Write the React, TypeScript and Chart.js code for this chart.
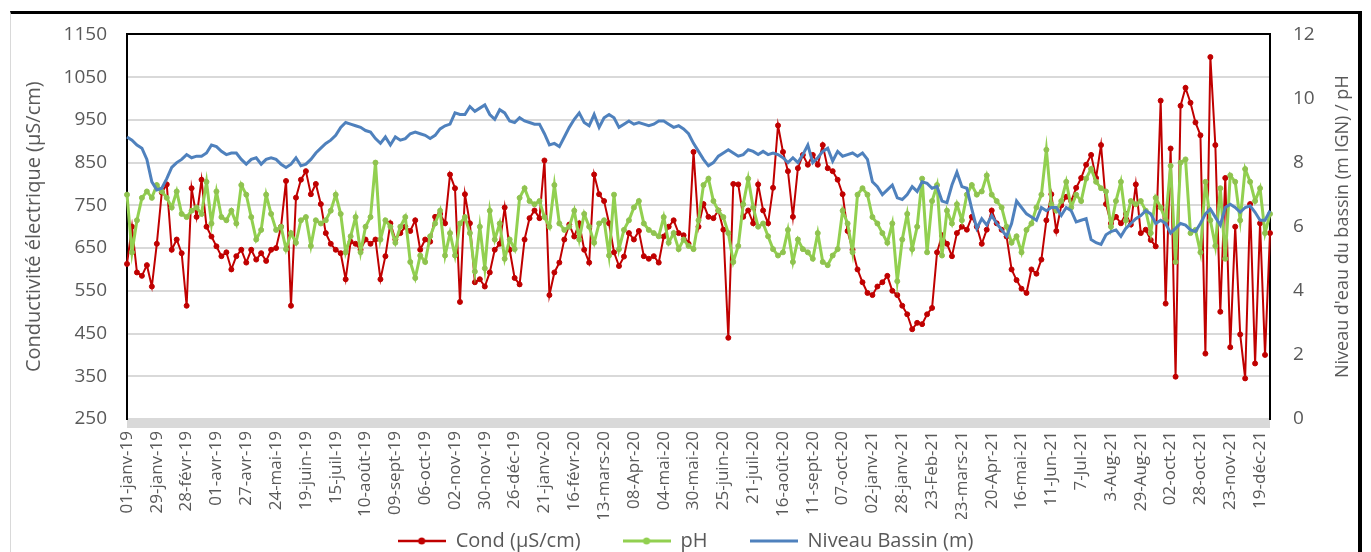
import React, { useEffect, useRef } from 'react';
import { Chart, registerables } from 'chart.js';

Chart.register(...registerables);

const tickLabels = [
  '01-janv-19', '29-janv-19', '28-févr-19', '01-avr-19', '27-avr-19', '24-mai-19', '19-juin-19',
  '15-juil-19', '10-août-19', '09-sept-19', '06-oct-19', '02-nov-19', '30-nov-19', '26-déc-19',
  '21-janv-20', '16-févr-20', '13-mars-20', '08-Apr-20', '04-mai-20', '30-mai-20', '25-juin-20',
  '21-juil-20', '16-août-20', '11-sept-20', '07-oct-20', '02-janv-21', '28-janv-21', '23-Feb-21',
  '23-mars-21', '20-Apr-21', '16-mai-21', '11-Jun-21', '7-Jul-21', '3-Aug-21', '29-Aug-21',
  '02-oct-21', '28-oct-21', '23-nov-21', '19-déc-21',
];

const pointsPerTick = 6;

const seriesNames = ['Cond (µS/cm)', 'pH', 'Niveau Bassin (m)'];
const leftTitle = 'Conductivité électrique (µS/cm)';
const rightTitle = "Niveau d'eau du bassin (m IGN) / pH";

const condValues = [
  613, 700, 593, 585, 610, 560, 660, 780, 799, 646,
  670, 638, 515, 790, 723, 810, 700, 677, 654, 631,
  640, 600, 631, 646, 616, 646, 623, 638, 620, 646,
  650, 700, 807, 515, 768, 810, 830, 776, 800, 753,
  685, 660, 646, 638, 577, 665, 660, 646, 670, 660,
  670, 577, 631, 708, 670, 685, 700, 690, 715, 646,
  670, 665, 723, 730, 708, 822, 790, 524, 776, 708,
  570, 577, 560, 593, 646, 660, 745, 646, 580, 565,
  670, 720, 738, 720, 855, 540, 593, 616, 670, 705,
  677, 708, 646, 616, 822, 776, 760, 708, 640, 608,
  630, 685, 670, 690, 631, 625, 631, 616, 677, 700,
  715, 685, 680, 660, 875, 700, 753, 723, 720, 738,
  693, 440, 800, 799, 723, 738, 708, 799, 738, 708,
  791, 937, 875, 830, 723, 837, 868, 845, 868, 845,
  891, 837, 830, 810, 776, 690, 646, 600, 570, 545,
  540, 560, 570, 585, 550, 540, 515, 495, 460, 475,
  472, 495, 510, 640, 680, 660, 631, 685, 700, 693,
  723, 700, 660, 693, 738, 708, 693, 677, 600, 575,
  555, 545, 600, 590, 623, 715, 776, 690, 750, 770,
  760, 791, 814, 845, 868, 814, 891, 753, 708, 723,
  708, 730, 705, 799, 685, 693, 669, 654, 995, 520,
  883, 349, 983, 1025, 990, 944, 914, 403, 1097, 891,
  501, 814, 418, 700, 448, 345, 753, 380, 708, 400, 685,
];

const phValues = [
  7.0, 5.2, 6.2, 6.9, 7.1, 6.9, 7.3, 7.1, 6.9, 6.6,
  7.1, 6.4, 6.3, 6.5, 6.6, 6.4, 7.4, 6.1, 7.1, 6.3,
  6.2, 6.5, 6.1, 7.3, 7.0, 6.3, 5.6, 5.9, 7.0, 6.4,
  5.9, 6.0, 5.3, 5.8, 5.5, 6.2, 6.3, 5.4, 6.2, 6.1,
  6.2, 6.5, 7.0, 6.4, 5.2, 5.7, 6.3, 5.2, 6.0, 6.3,
  8.0, 5.6, 6.2, 6.0, 5.5, 6.0, 6.3, 4.9, 4.4, 5.1,
  4.9, 5.7, 6.1, 6.5, 5.1, 5.8, 5.1, 6.1, 6.3, 5.8,
  4.6, 6.0, 4.7, 6.5, 5.6, 6.1, 5.0, 5.6, 5.3, 6.9,
  7.2, 6.8, 6.7, 6.8, 6.3, 6.0, 7.3, 6.1, 5.9, 6.0,
  6.5, 5.6, 6.4, 6.0, 5.5, 6.1, 6.2, 5.1, 7.0, 5.3,
  5.9, 6.2, 6.6, 6.8, 6.1, 5.9, 5.8, 5.7, 6.3, 5.5,
  5.8, 5.3, 5.6, 5.4, 5.3, 6.2, 7.3, 7.5, 6.8, 6.5,
  6.3, 5.8, 4.9, 5.4, 6.7, 7.5, 6.6, 6.0, 6.1, 5.7,
  5.3, 5.1, 5.2, 5.9, 4.9, 5.6, 5.3, 5.2, 5.0, 5.8,
  4.9, 4.8, 5.1, 5.3, 6.5, 6.1, 5.2, 7.0, 7.2, 7.0,
  6.3, 6.1, 5.8, 5.5, 6.1, 4.3, 5.6, 6.4, 5.3, 6.0,
  7.5, 5.2, 6.8, 7.3, 5.1, 6.5, 6.1, 6.7, 6.2, 7.0,
  7.3, 7.0, 7.1, 7.6, 7.0, 6.8, 6.6, 6.0, 5.5, 5.7,
  5.2, 5.9, 6.1, 6.6, 7.0, 8.4, 6.7, 6.5, 6.8, 7.4,
  6.6, 7.0, 6.8, 7.5, 7.8, 7.4, 7.2, 7.1, 6.0, 6.8,
  7.4, 6.2, 6.8, 6.7, 6.8, 6.5, 5.8, 6.9, 6.6, 6.2,
  7.9, 4.9, 8.0, 8.1, 5.8, 5.9, 5.2, 7.4, 6.2, 5.4,
  7.2, 5.0, 7.6, 7.4, 6.2, 7.8, 7.4, 6.8, 7.2, 5.8, 6.4,
];

const niveauValues = [
  8.8, 8.7, 8.55, 8.45, 8.1, 7.4, 7.15, 7.2, 7.5, 7.85,
  8.0, 8.1, 8.25, 8.15, 8.2, 8.2, 8.3, 8.55, 8.5, 8.35,
  8.25, 8.3, 8.3, 8.1, 7.95, 8.1, 8.15, 7.95, 8.1, 8.15,
  8.1, 7.95, 7.85, 7.95, 8.15, 7.9, 7.95, 8.1, 8.3, 8.45,
  8.6, 8.7, 8.85, 9.1, 9.25, 9.2, 9.15, 9.1, 9.0, 8.95,
  8.75, 8.6, 8.8, 8.55, 8.8, 8.7, 8.75, 8.9, 8.95, 8.9,
  8.85, 8.75, 8.85, 9.05, 9.15, 9.2, 9.55, 9.5, 9.5, 9.75,
  9.6, 9.7, 9.8, 9.5, 9.35, 9.65, 9.55, 9.3, 9.25, 9.4,
  9.3, 9.25, 9.2, 9.2, 8.9, 8.55, 8.6, 8.5, 8.8, 9.1,
  9.35, 9.55, 9.25, 9.15, 9.5, 9.1, 9.4, 9.5, 9.4, 9.1,
  9.2, 9.3, 9.2, 9.25, 9.2, 9.15, 9.2, 9.3, 9.3, 9.2,
  9.1, 9.15, 9.05, 8.9, 8.6, 8.35, 8.1, 7.9, 8.0, 8.2,
  8.3, 8.4, 8.3, 8.2, 8.25, 8.4, 8.35, 8.25, 8.35, 8.25,
  8.3, 8.25, 8.15, 8.0, 8.15, 8.0, 8.25, 8.55, 8.0, 8.15,
  8.35, 8.45, 8.05, 8.35, 8.2, 8.25, 8.3, 8.2, 8.3, 8.1,
  7.4, 7.25, 7.0, 7.15, 7.3, 6.9, 6.85, 7.0, 7.25, 7.1,
  7.4, 7.35, 7.2, 7.25, 6.8, 6.75, 7.3, 7.7, 7.25, 7.2,
  6.55, 5.95, 6.25, 6.05, 6.35, 6.1, 5.9, 5.7, 6.1, 6.8,
  6.6, 6.4, 6.3, 6.2, 6.6, 6.5, 6.6, 6.6, 6.35, 6.6,
  6.5, 6.15, 6.2, 6.25, 5.6, 5.5, 5.45, 5.75, 5.85, 5.9,
  5.7, 5.95, 6.1, 6.25, 6.35, 6.5, 6.4, 6.1, 6.2, 6.1,
  5.8, 5.95, 6.1, 6.05, 5.9, 5.85, 6.1, 6.4, 6.55, 6.3,
  6.05, 6.6, 6.7, 6.6, 6.45, 6.6, 6.65, 6.45, 6.2, 6.2, 6.5,
];

const RED = '#c00000';
const GREEN = '#92d050';
const BLUE = '#4f81bd';
const TEXT = '#595959';
const GRID = '#d9d9d9';
const FONT = '"Open Sans", "Noto Sans", sans-serif';

const ICON_LINE = 48;
const LEGEND_GAP = '\u2002\u2002\u2002';

function makeIcon(color: string, dot: boolean, lw: number) {
  const c = document.createElement('canvas');
  c.width = ICON_LINE;
  c.height = 10;
  const g = c.getContext('2d')!;
  g.strokeStyle = color;
  g.lineWidth = lw;
  g.beginPath();
  g.moveTo(0, 5);
  g.lineTo(ICON_LINE, 5);
  g.stroke();
  if (dot) {
    g.fillStyle = color;
    g.beginPath();
    g.arc(ICON_LINE / 2, 5, 3.5, 0, Math.PI * 2);
    g.fill();
  }
  return c;
}

export default function App() {
  const ref = useRef<HTMLCanvasElement>(null);

  useEffect(() => {
    const canvas = ref.current;
    if (!canvas) return;
    Chart.defaults.font.family = FONT;

    const categories = condValues.map((_, i) =>
      i % pointsPerTick === 0 ? tickLabels[i / pointsPerTick] ?? '' : ''
    );
    const icons = [makeIcon(RED, true, 2.5), makeIcon(GREEN, true, 3), makeIcon(BLUE, false, 3)];

    const decor = {
      id: 'decor',
      afterDraw(chart: any) {
        const { ctx, chartArea } = chart;
        ctx.save();
        ctx.fillStyle = GRID;
        ctx.fillRect(chartArea.left, chartArea.bottom + 1, chartArea.right - chartArea.left, 8);
        ctx.fillStyle = TEXT;
        ctx.font = `18px ${FONT}`;
        ctx.textAlign = 'center';
        ctx.textBaseline = 'middle';
        ctx.translate(1343, (chartArea.top + chartArea.bottom) / 2);
        ctx.rotate(-Math.PI / 2);
        ctx.fillText(rightTitle, 0, 0);
        ctx.restore();
      },
    };

    const chart = new Chart(canvas, {
      type: 'line',
      data: {
        labels: categories,
        datasets: [
          {
            label: seriesNames[0],
            data: condValues,
            yAxisID: 'y',
            borderColor: RED,
            backgroundColor: RED,
            borderWidth: 2,
            pointRadius: 2.5,
            pointBorderWidth: 1,
            pointBackgroundColor: RED,
            pointBorderColor: RED,
            tension: 0,
            order: 2,
          },
          {
            label: seriesNames[1],
            data: phValues,
            yAxisID: 'y1',
            borderColor: GREEN,
            backgroundColor: GREEN,
            borderWidth: 3,
            pointRadius: 2.5,
            pointBorderWidth: 1,
            pointBackgroundColor: '#8fc34f',
            pointBorderColor: '#8fc34f',
            tension: 0,
            order: 1,
          },
          {
            label: seriesNames[2],
            data: niveauValues,
            yAxisID: 'y1',
            borderColor: BLUE,
            backgroundColor: BLUE,
            borderWidth: 3,
            pointRadius: 0,
            tension: 0,
            order: 0,
          },
        ],
      },
      options: {
        responsive: false,
        animation: false,
        devicePixelRatio: 1,
        layout: { padding: { left: 0, right: 0, top: 27, bottom: 1 } },
        plugins: {
          tooltip: { enabled: false },
          legend: {
            position: 'bottom',
            labels: {
              usePointStyle: true,
              pointStyleWidth: ICON_LINE,
              boxHeight: 10,
              padding: 12,
              color: TEXT,
              font: { size: 20, family: FONT },
              sort: (a: any, b: any) => a.datasetIndex - b.datasetIndex,
              generateLabels: (ch: any) => {
                const items = (Chart.defaults.plugins.legend.labels as any).generateLabels(ch);
                return items.map((it: any) => ({
                  ...it,
                  text: it.datasetIndex < seriesNames.length - 1 ? it.text + LEGEND_GAP : it.text,
                  pointStyle: icons[it.datasetIndex],
                }));
              },
            },
          },
        },
        scales: {
          x: {
            type: 'category',
            offset: false,
            grid: { display: false, drawTicks: false },
            border: { display: false },
            ticks: {
              autoSkip: false,
              minRotation: 90,
              maxRotation: 90,
              padding: 12,
              color: TEXT,
              font: { size: 17, family: FONT },
            },
            afterFit: (s: any) => {
              s.height = 100;
            },
          },
          y: {
            position: 'left',
            min: 250,
            max: 1150,
            ticks: {
              stepSize: 100,
              padding: 20,
              color: TEXT,
              font: { size: 19, family: FONT },
              callback: (v: any) => String(v),
            },
            grid: {
              color: (c: any) => (c.tick && c.tick.value === 1150 ? '#000000' : GRID),
              lineWidth: 2,
              drawTicks: false,
            },
            border: { display: true, color: '#000000', width: 2 },
            title: {
              display: true,
              text: leftTitle,
              color: TEXT,
              font: { size: 20, family: FONT },
              padding: { top: 22, bottom: 0 },
            },
            afterFit: (s: any) => {
              s.width = 127;
            },
          },
          y1: {
            position: 'right',
            min: 0,
            max: 12,
            ticks: {
              stepSize: 2,
              padding: 23,
              color: TEXT,
              font: { size: 19, family: FONT },
              callback: (v: any) => String(v),
            },
            grid: { display: false, drawTicks: false },
            border: { display: true, color: '#000000', width: 2 },
            afterFit: (s: any) => {
              s.width = 101;
            },
          },
        },
      },
      plugins: [decor],
    } as any);

    return () => chart.destroy();
  }, []);

  return (
    <div
      style={{
        position: 'fixed',
        left: 0,
        top: 0,
        width: 1371,
        height: 552,
        overflow: 'hidden',
        background: '#ffffff',
      }}
    >
      <canvas
        ref={ref}
        width={1371}
        height={562}
        style={{ position: 'absolute', left: 0, top: 0, width: 1371, height: 562 }}
      />
      <div
        style={{
          position: 'absolute',
          left: 10,
          top: 11,
          width: 1352,
          height: 600,
          boxSizing: 'border-box',
          borderTop: '3px solid #000',
          borderRight: '4px solid #000',
          borderLeft: '1px solid #d9d9d9',
          pointerEvents: 'none',
        }}
      />
    </div>
  );
}
